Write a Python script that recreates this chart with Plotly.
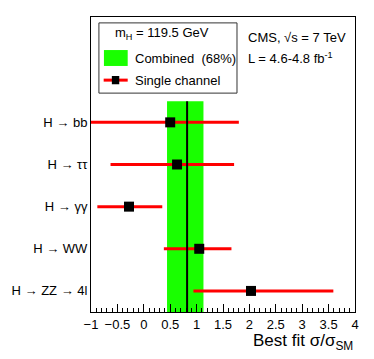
import plotly.graph_objects as go

# channels listed top to bottom
channels = ["H \u2192 bb", "H \u2192 \u03c4\u03c4", "H \u2192 \u03b3\u03b3", "H \u2192 WW", "H \u2192 ZZ \u2192 4l"]
best_fit = [0.50, 0.63, -0.28, 1.05, 2.03]
low = [-1.4, -0.63, -0.88, 0.38, 0.94]
high = [1.80, 1.71, 0.35, 1.66, 3.59]

combined = 0.82
combined_lo = 0.44
combined_hi = 1.13

ypos = list(range(len(channels) - 1, -1, -1))
err_plus = [h - b for h, b in zip(high, best_fit)]
err_minus = [b - l for b, l in zip(best_fit, low)]

font = "Liberation Sans, Arial, sans-serif"

fig = go.Figure()

# combined 68% band and central value
fig.add_shape(type="rect", xref="x", yref="y", x0=combined_lo, x1=combined_hi,
              y0=-0.5, y1=4.5, fillcolor="#19ff00", line_width=0, layer="below")
fig.add_shape(type="line", xref="x", yref="y", x0=combined, x1=combined,
              y0=-0.5, y1=4.5, line=dict(color="black", width=2))

fig.add_trace(go.Scatter(
    x=best_fit, y=ypos, mode="markers",
    marker=dict(symbol="square", size=10, color="black"),
    error_x=dict(type="data", symmetric=False, array=err_plus, arrayminus=err_minus,
                 color="#ff0000", thickness=3, width=0),
    showlegend=False,
))

# legend box drawn by hand
fig.add_shape(type="rect", xref="paper", yref="paper", x0=0.030, x1=0.553,
              y0=0.742, y1=0.980, line=dict(color="#333", width=1), fillcolor="white")
fig.add_shape(type="rect", xref="paper", yref="paper", x0=0.049, x1=0.139,
              y0=0.834, y1=0.888, fillcolor="#19ff00", line_width=0)
fig.add_shape(type="line", xref="paper", yref="paper", x0=0.048, x1=0.139,
              y0=0.786, y1=0.786, line=dict(color="#ff0000", width=3))
fig.add_shape(type="rect", xref="paper", yref="paper", x0=0.079, x1=0.107,
              y0=0.772, y1=0.800, fillcolor="black", line_width=0)

ann = dict(xref="paper", yref="paper", showarrow=False, xanchor="left", yanchor="middle",
           font=dict(family=font, size=13, color="black"))
fig.add_annotation(x=0.083, y=0.944, text="m<sub>H</sub> = 119.5 GeV", **ann)
fig.add_annotation(x=0.160, y=0.861, text="Combined  (68%)", **ann)
fig.add_annotation(x=0.160, y=0.786, text="Single channel", **ann)
fig.add_annotation(x=0.589, y=0.932, text="CMS, \u221as = 7 TeV", **ann)
fig.add_annotation(x=0.589, y=0.862, text="L = 4.6-4.8 fb<sup>-1</sup>", **ann)
fig.add_annotation(xref="paper", yref="paper", x=1.0, y=-0.058, xanchor="right", yanchor="top",
                   showarrow=False, text="Best fit \u03c3/\u03c3<sub>SM</sub>",
                   font=dict(family=font, size=17, color="black"))

fig.update_layout(
    width=374, height=359,
    margin=dict(l=89, r=19, t=17, b=47),
    paper_bgcolor="white", plot_bgcolor="white",
    font=dict(family=font, size=13, color="black"),
    xaxis=dict(range=[-1, 4], dtick=0.5, ticks="inside", ticklen=8, tickcolor="black",
               showgrid=False, zeroline=False, showline=True, mirror=True,
               linecolor="black", linewidth=1,
               minor=dict(dtick=0.1, ticks="inside", ticklen=4, tickcolor="black", showgrid=False)),
    yaxis=dict(range=[-0.5, 6.5], tickvals=ypos, ticktext=channels, ticks="",
               showgrid=False, zeroline=False, showline=True, mirror=True,
               linecolor="black", linewidth=1),
)

fig.write_html("out.html", config={"displayModeBar": False},
               post_script="document.body.style.margin='0';")
